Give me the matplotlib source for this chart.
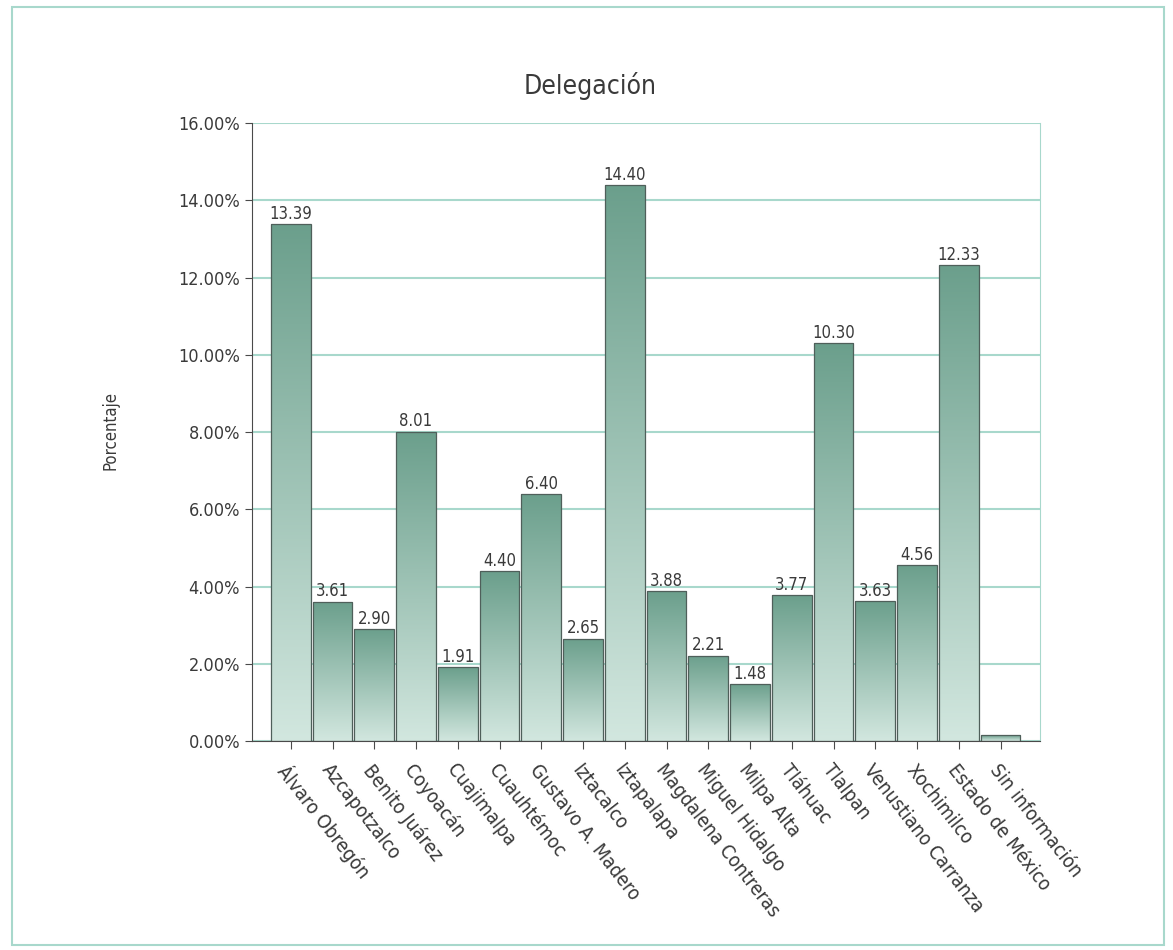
import numpy as np
import matplotlib.pyplot as plt
from matplotlib.patches import Rectangle
from matplotlib.colors import LinearSegmentedColormap

plt.rcParams['font.family'] = ['DejaVu Sans']
plt.rcParams['font.stretch'] = 'condensed'

delegaciones = ['Álvaro Obregón', 'Azcapotzalco', 'Benito Juárez', 'Coyoacán',
                'Cuajimalpa', 'Cuauhtémoc', 'Gustavo A. Madero', 'Iztacalco',
                'Iztapalapa', 'Magdalena Contreras', 'Miguel Hidalgo', 'Milpa Alta',
                'Tláhuac', 'Tlalpan', 'Venustiano Carranza', 'Xochimilco',
                'Estado de México', 'Sin información']
porcentaje = [13.39, 3.61, 2.90, 8.01, 1.91, 4.40, 6.40, 2.65, 14.40, 3.88,
              2.21, 1.48, 3.77, 10.30, 3.63, 4.56, 12.33, 0.15]
etiquetas = ['13.39', '3.61', '2.90', '8.01', '1.91', '4.40', '6.40', '2.65', '14.40',
             '3.88', '2.21', '1.48', '3.77', '10.30', '3.63', '4.56', '12.33', '']
yticks = [0, 2, 4, 6, 8, 10, 12, 14, 16]

fig = plt.figure(figsize=(11.73, 9.5), dpi=100)
ax = fig.add_axes([0.2148, 0.22, 0.672, 0.6505])

# marco claro alrededor de la figura
fig.patches.append(Rectangle((0.01, 0.005), 0.982, 0.988, transform=fig.transFigure,
                             fill=False, edgecolor='#a8d8cc', linewidth=1.5))

x = np.arange(len(delegaciones))
bars = ax.bar(x, porcentaje, width=0.95, color='none', edgecolor='#4f5f5a',
              linewidth=0.9, zorder=3)

cmap = LinearSegmentedColormap.from_list('verde', ['#d2e7df', '#6b9f8c'])
grad = np.linspace(0, 1, 256).reshape(-1, 1)
for b in bars:
    x0, y0 = b.get_x(), b.get_y()
    w, h = b.get_width(), b.get_height()
    im = ax.imshow(grad, extent=[x0, x0 + w, y0, y0 + h], origin='lower',
                   cmap=cmap, aspect='auto', zorder=2)
    im.set_clip_path(b)

for xi, v, t in zip(x, porcentaje, etiquetas):
    if t:
        ax.text(xi, v + 0.03, t, ha='center', va='bottom', fontsize=12,
                color='#3a3a3a', zorder=4)

ax.set_xlim(-0.93, len(delegaciones) - 0.05)
ax.set_ylim(0, 16)
ax.set_yticks(yticks)
ax.set_yticklabels(['%.2f%%' % v for v in yticks], fontsize=13, color='#3a3a3a')
ax.yaxis.grid(True, color='#a8d8cc', linewidth=1.5, zorder=0)
ax.set_axisbelow(True)

ax.set_xticks(x)
ax.set_xticklabels(delegaciones, rotation=-52, ha='left', va='top',
                   rotation_mode='anchor', fontsize=14, color='#3a3a3a')
ax.tick_params(axis='x', direction='out', length=6, color='#4a4a4a', pad=8)
ax.tick_params(axis='y', direction='out', length=5, color='#4a4a4a')

ax.spines['left'].set_color('#4a4a4a')
ax.spines['bottom'].set_color('#4a4a4a')
ax.spines['right'].set_color('#a8d8cc')
ax.spines['top'].set_visible(False)

fig.text(0.503, 0.91, 'Delegación', ha='center', va='center', fontsize=19,
         color='#3a3a3a')
fig.text(0.094, 0.547, 'Porcentaje', ha='center', va='center', rotation=90,
         fontsize=12, color='#3a3a3a')

fig.savefig('out.png', dpi=100)
